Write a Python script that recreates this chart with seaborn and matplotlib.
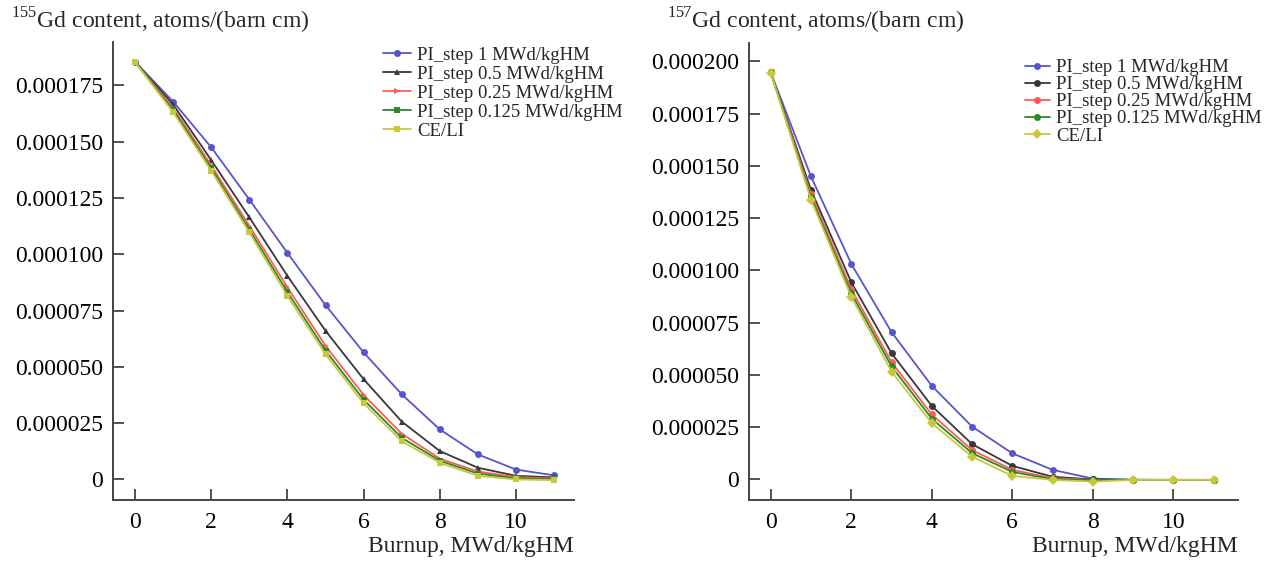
import numpy as np
import pandas as pd
import matplotlib
matplotlib.use('Agg')
import matplotlib.pyplot as plt
import seaborn as sns

# burnup points (MWd/kgHM)
burnup = list(range(12))

series_names = ['PI_step 1 MWd/kgHM', 'PI_step 0.5 MWd/kgHM', 'PI_step 0.25 MWd/kgHM',
                'PI_step 0.125 MWd/kgHM', 'CE/LI']

# Gd-155 content, 1e-6 atoms/(barn cm)
gd155_pi_1 = [185.5, 167.8, 147.5, 124.3, 100.6, 77.4, 56.4, 37.8, 22.2, 11.1, 4.4, 1.8]
gd155_pi_05 = [185.5, 166.5, 141.8, 116.4, 90.4, 66.0, 44.5, 25.7, 12.6, 5.2, 1.6, 0.9]
gd155_pi_025 = [185.5, 165.0, 139.5, 112.6, 85.3, 59.3, 37.5, 20.3, 9.2, 3.5, 1.0, 0.4]
gd155_pi_0125 = [185.5, 164.0, 138.2, 111.0, 83.2, 57.2, 35.4, 18.5, 8.3, 2.6, 0.5, 0.0]
gd155_ce_li = [185.3, 163.1, 137.1, 109.7, 81.5, 55.6, 33.8, 17.0, 7.4, 1.6, 0.0, -0.3]

# Gd-157 content, 1e-6 atoms/(barn cm)
gd157_pi_1 = [194.7, 144.9, 103.1, 70.4, 44.7, 25.2, 12.4, 4.5, 0.3, -0.2, -0.3, -0.3]
gd157_pi_05 = [194.7, 138.5, 94.3, 60.3, 35.1, 16.8, 6.4, 1.2, -0.1, -0.3, -0.3, -0.3]
gd157_pi_025 = [194.7, 136.5, 91.0, 56.0, 31.0, 14.0, 4.5, 0.5, -0.3, -0.3, -0.3, -0.3]
gd157_pi_0125 = [194.7, 135.0, 89.0, 54.0, 29.0, 12.5, 3.5, 0.0, -0.4, -0.3, -0.3, -0.3]
gd157_ce_li = [194.5, 133.8, 87.4, 51.5, 26.8, 10.8, 1.6, -0.3, -1.1, -0.3, -0.3, -0.3]

left_ticks = [0, 25e-6, 50e-6, 75e-6, 100e-6, 125e-6, 150e-6, 175e-6]
left_ticklabels = ['0', '0.000025', '0.000050', '0.000075', '0.000100', '0.000125',
                   '0.000150', '0.000175']
right_ticks = left_ticks + [200e-6]
right_ticklabels = left_ticklabels + ['0.000200']
x_ticks = [0, 2, 4, 6, 8, 10]


def to_long(cols):
    frames = []
    for name, vals in zip(series_names, cols):
        frames.append(pd.DataFrame({'burnup': burnup,
                                    'content': np.array(vals) * 1e-6,
                                    'series': name}))
    return pd.concat(frames, ignore_index=True)


df155 = to_long([gd155_pi_1, gd155_pi_05, gd155_pi_025, gd155_pi_0125, gd155_ce_li])
df157 = to_long([gd157_pi_1, gd157_pi_05, gd157_pi_025, gd157_pi_0125, gd157_ce_li])

sns.set_theme(style='ticks')
plt.rcParams['font.family'] = ['Liberation Serif', 'DejaVu Serif']
plt.rcParams['mathtext.fontset'] = 'custom'
plt.rcParams['mathtext.rm'] = 'Liberation Serif'

palette = dict(zip(series_names, ['#5656cc', '#383838', '#ff5a5a', '#2a8a2a', '#c8c83c']))
markers155 = dict(zip(series_names, ['o', '^', '>', 's', 's']))
markers157 = dict(zip(series_names, ['o', 'o', 'o', 'o', 'D']))

fig = plt.figure(figsize=(12.69, 5.63), dpi=100)
ax1 = fig.add_axes([0.089, 0.112, 0.3633, 0.8135])
ax2 = fig.add_axes([0.5902, 0.112, 0.3853, 0.8117])


def draw(ax, df, markers, ylim, ticks, ticklabels, xlim, leg_anchor, leg_space, handle_len):
    sns.lineplot(data=df, x='burnup', y='content', hue='series', style='series',
                 palette=palette, markers=markers, dashes=False, linewidth=1.3,
                 markersize=5, markeredgewidth=0, ax=ax)
    ax.set_xlim(*xlim)
    ax.set_ylim(*ylim)
    ax.set_xticks(x_ticks)
    ax.set_xticklabels([str(t) for t in x_ticks])
    ax.set_yticks(ticks)
    ax.set_yticklabels(ticklabels)
    ax.tick_params(direction='in', length=8, width=1.2, labelsize=17, colors='#333333',
                   labelcolor='black')
    ax.tick_params(axis='y', pad=7)
    ax.tick_params(axis='x', pad=9)
    for s in ['top', 'right']:
        ax.spines[s].set_visible(False)
    for s in ['left', 'bottom']:
        ax.spines[s].set_linewidth(1.4)
        ax.spines[s].set_color('#444444')
    ax.set_ylabel('')
    ax.set_xlabel('Burnup, MWd/kgHM', fontsize=17, loc='right', labelpad=2)
    handles, labels = ax.get_legend_handles_labels()
    ax.legend(handles, labels, loc='upper left', bbox_to_anchor=leg_anchor,
              frameon=False, fontsize=13.5, labelspacing=leg_space, handlelength=handle_len,
              handletextpad=0.35, borderpad=0, borderaxespad=0)


draw(ax1, df155, markers155, (-9.1e-6, 194.3e-6), left_ticks, left_ticklabels,
     (-0.58, 11.52), (0.585, 0.99), 0.1, 1.5)
draw(ax2, df157, markers157, (-9.9e-6, 208.8e-6), right_ticks, right_ticklabels,
     (-0.54, 11.6), (0.565, 0.965), 0.0, 1.3)

fig.text(0.009, 0.963, r'$^{155}$Gd content, atoms/(barn cm)', fontsize=17, va='center')
fig.text(0.526, 0.963, r'$^{157}$Gd content, atoms/(barn cm)', fontsize=17, va='center')

fig.savefig('out.png', dpi=100)
